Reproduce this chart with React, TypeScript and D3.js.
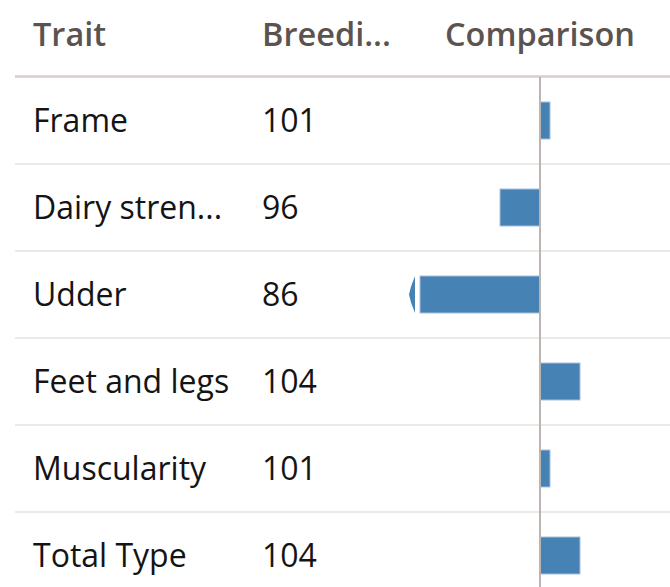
import React from "react";
import { scaleLinear, scaleBand } from "d3";

const traits = ["Frame", "Dairy stren...", "Udder", "Feet and legs", "Muscularity", "Total Type"];
const breedingValues = [101, 96, 86, 104, 101, 104];
const headers = ["Trait", "Breedi...", "Comparison"];
const compareDomain = [88, 113];
const baseline = 100;

const width = 670;
const height = 587;
const headerHeight = 77;
const rowHeight = 87;

const App = () => {
  const x = scaleLinear().domain(compareDomain).range([420, 670]);
  const y = scaleBand()
    .domain(traits)
    .range([headerHeight, headerHeight + rowHeight * traits.length])
    .paddingInner(0);

  const barH = 37;
  const font = "'Open Sans', sans-serif";
  const colX = [33, 262, 445];

  return (
    <div style={{ position: "absolute", left: 0, top: 0 }}>
      <svg width={width} height={height} style={{ display: "block" }}>
        <rect width={width} height={height} fill="#ffffff" />

        {/* Header */}
        {headers.map((h, i) => (
          <text
            key={h}
            x={colX[i]}
            y={46}
            fontFamily={font}
            fontWeight={600}
            fontSize={32.5}
            fill="#5b5350"
          >
            {h}
          </text>
        ))}

        {/* Row separators */}
        {traits.slice(1).map((t) => (
          <line
            key={t}
            x1={15}
            x2={width}
            y1={y(t)}
            y2={y(t)}
            stroke="#ece9e6"
            strokeWidth={2}
          />
        ))}

        {/* Rows */}
        {traits.map((t, i) => {
          const v = breedingValues[i];
          const cy = (y(t) as number) + y.bandwidth() / 2;
          const clipped = v < compareDomain[0];
          const v0 = Math.max(v, compareDomain[0]);
          const x0 = x(Math.min(v0, baseline));
          const x1 = x(Math.max(v0, baseline));
          return (
            <g key={t}>
              <text x={colX[0]} y={cy + 11.5} fontFamily={font} fontSize={32} fill="#141414">
                {t}
              </text>
              <text x={colX[1]} y={cy + 11.5} fontFamily={font} fontSize={32} fill="#141414">
                {v}
              </text>
              <rect
                x={x0}
                y={cy - barH / 2}
                width={x1 - x0}
                height={barH}
                fill="#4682b4"
                stroke="#a7c0db"
                strokeWidth={1}
              />
              {clipped && (
                <path
                  d={`M${x0 - 5},${cy - barH / 2} L${x0 - 9},${cy - 8} L${x0 - 11},${cy} L${x0 - 9},${cy + 8} L${x0 - 5},${cy + barH / 2} Z`}
                  fill="#4682b4"
                />
              )}
            </g>
          );
        })}

        {/* Header underline */}
        <line x1={15} x2={width} y1={76.5} y2={76.5} stroke="#d4cdca" strokeWidth={2.5} />

        {/* Center line */}
        <line
          x1={x(baseline)}
          x2={x(baseline)}
          y1={headerHeight}
          y2={height}
          stroke="#bcb4b1"
          strokeWidth={2}
        />
      </svg>
    </div>
  );
};

export default App;
